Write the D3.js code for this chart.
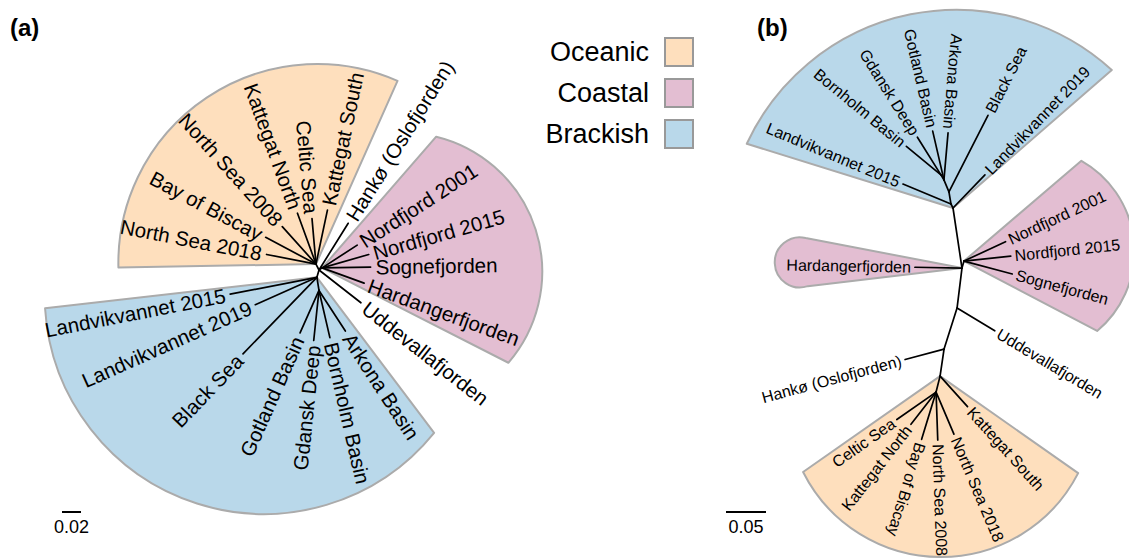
<!DOCTYPE html>
<html>
<head>
<meta charset="utf-8">
<script src="https://cdn.jsdelivr.net/npm/d3@7"></script>
<style>
  html, body { margin: 0; padding: 0; background: #fff; }
  svg { display: block; font-family: "Liberation Sans", Arial, Helvetica, sans-serif; }
</style>
</head>
<body>
<svg id="chart" width="1129" height="560"></svg>
<script>
// ---- habitat groups ----
const groupNames = ["Oceanic", "Coastal", "Brackish"];
const groupFills = ["#FEDFBD", "#E3BED2", "#B9D8EA"];

// ---- panel (a): unrooted tree ----
// internal nodes: [id, parent, branch length, direction in degrees (0 = east, clockwise)]
const nodesA = [
  ["root", null, 0, 0],
  ["oce", "root", 0.007, 243],
  ["coa", "root", 0.004, 326],
  ["bra", "root", 0.008, 106],
  ["bal", "bra", 0.014, 81]
];
// tips: [label, parent, branch length, direction]
const tipsA = [
  ["North Sea 2018", "oce", 0.053, 191],
  ["Bay of Biscay", "oce", 0.060, 208],
  ["North Sea 2008", "oce", 0.053, 228],
  ["Kattegat North", "oce", 0.057, 250],
  ["Celtic Sea", "oce", 0.048, 265],
  ["Kattegat South", "oce", 0.058, 282],
  ["Hankø (Oslofjorden)", "root", 0.058, 302],
  ["Nordfjord 2001", "coa", 0.044, 327],
  ["Nordfjord 2015", "coa", 0.051, 344],
  ["Sognefjorden", "coa", 0.051, 359],
  ["Hardangerfjorden", "coa", 0.047, 20],
  ["Uddevallafjorden", "root", 0.056, 38],
  ["Arkona Basin", "bal", 0.051, 57],
  ["Bornholm Basin", "bal", 0.051, 77],
  ["Gdansk Deep", "bal", 0.053, 96],
  ["Gotland Basin", "bal", 0.049, 114],
  ["Black Sea", "bra", 0.112, 134],
  ["Landvikvannet 2019", "bra", 0.071, 156],
  ["Landvikvannet 2015", "bra", 0.093, 169]
];
// highlighted clades: [group, apex node, start angle, start edge length, end angle, end edge length, arc bulge]
const cladesA = [
  ["Oceanic", "oce", 179, 0.208, 294, 0.211, 0.097],
  ["Coastal", "coa", 311, 0.183, 387, 0.220, 0.070],
  ["Brackish", "bra", 53, 0.205, 173.5, 0.288, 0.147]
];
const scaleBarA = 0.02;

// ---- panel (b): unrooted tree ----
const nodesB = [
  ["root", null, 0, 0],
  ["b1", "root", 0.0056, 243],
  ["b2", "b1", 0.0153, 260.5],
  ["b3", "b2", 0.0163, 247.4],
  ["b4", "b3", 0.0073, 239],
  ["c1", "root", 0.0759, 81.5],
  ["c2", "c1", 0.0091, 286],
  ["u", "c1", 0.0504, 97],
  ["h", "u", 0.0538, 107.6],
  ["o1", "h", 0.0341, 98.4],
  ["o2", "o1", 0.0206, 104]
];
const tipsB = [
  ["Landvikvannet 2019", "root", 0.0575, 314],
  ["Landvikvannet 2015", "b1", 0.065, 202.6],
  ["Black Sea", "b2", 0.1075, 297],
  ["Arkona Basin", "b3", 0.059, 275],
  ["Gotland Basin", "b3", 0.0625, 257],
  ["Gdansk Deep", "b4", 0.0555, 238],
  ["Bornholm Basin", "b4", 0.056, 219.5],
  ["Hardangerfjorden", "c1", 0.0588, 181],
  ["Nordfjord 2001", "c2", 0.0573, 335],
  ["Nordfjord 2015", "c2", 0.0588, 354],
  ["Sognefjorden", "c2", 0.0625, 15],
  ["Uddevallafjorden", "u", 0.055, 31],
  ["Hankø (Oslofjorden)", "h", 0.0504, 165],
  ["Kattegat South", "o1", 0.0513, 48],
  ["Celtic Sea", "o2", 0.0599, 145],
  ["Kattegat North", "o2", 0.051, 128],
  ["Bay of Biscay", "o2", 0.0618, 107],
  ["North Sea 2008", "o2", 0.06, 88],
  ["North Sea 2018", "o2", 0.0571, 67]
];
const cladesB = [
  ["Brackish", "root", 197.3, 0.270, 319, 0.263, 0.118],
  ["Coastal", "c2", 319.5, 0.193, 387.7, 0.188, 0.056],
  ["Coastal", "c1", 173.3, 0.194, 190.9, 0.199, 0.040],
  ["Oceanic", "o1", 35.1, 0.211, 145, 0.209, 0.1056]
];
const scaleBarB = 0.05;

// ---- drawing ----
const svg = d3.select("#chart");
const fillOf = d3.scaleOrdinal().domain(groupNames).range(groupFills);
const rad = d => d * Math.PI / 180;

function drawPanel(cfg) {
  const len = d3.scaleLinear().domain([0, cfg.barValue]).range([0, cfg.barPx]);
  const pos = new Map();
  cfg.nodes.forEach(([id, parent, bl, ang]) => {
    if (parent === null) { pos.set(id, cfg.origin); return; }
    const p = pos.get(parent);
    pos.set(id, [p[0] + len(bl) * Math.cos(rad(ang)), p[1] + len(bl) * Math.sin(rad(ang))]);
  });
  const tipPos = cfg.tips.map(([name, parent, bl, ang]) => {
    const p = pos.get(parent);
    return { name, ang, from: p,
      to: [p[0] + len(bl) * Math.cos(rad(ang)), p[1] + len(bl) * Math.sin(rad(ang))] };
  });
  const g = svg.append("g");

  // clade highlights
  g.append("g").selectAll("path").data(cfg.clades).join("path")
    .attr("d", ([grp, apex, a0, r0, a1, r1, bulge]) => {
      const P = pos.get(apex);
      const A = [P[0] + len(r0) * Math.cos(rad(a0)), P[1] + len(r0) * Math.sin(rad(a0))];
      const B = [P[0] + len(r1) * Math.cos(rad(a1)), P[1] + len(r1) * Math.sin(rad(a1))];
      const c = Math.hypot(B[0] - A[0], B[1] - A[1]);
      const s = len(bulge);
      const R = (c * c / 4 + s * s) / (2 * s);
      const large = s > c / 2 ? 1 : 0;
      return `M${P[0]},${P[1]}L${A[0]},${A[1]}A${R},${R} 0 ${large} 1 ${B[0]},${B[1]}Z`;
    })
    .attr("fill", d => fillOf(d[0]))
    .attr("stroke", "#ABABAB")
    .attr("stroke-width", 2)
    .attr("stroke-linejoin", "round");

  // branches
  const edges = [];
  cfg.nodes.forEach(([id, parent]) => { if (parent !== null) edges.push([pos.get(parent), pos.get(id)]); });
  tipPos.forEach(t => edges.push([t.from, t.to]));
  g.append("g").selectAll("line").data(edges).join("line")
    .attr("x1", d => d[0][0]).attr("y1", d => d[0][1])
    .attr("x2", d => d[1][0]).attr("y2", d => d[1][1])
    .attr("stroke", "#000").attr("stroke-width", 1.7).attr("stroke-linecap", "round");

  // tip labels
  const flipped = t => t.ang > cfg.flip[0] && t.ang < cfg.flip[1];
  g.append("g").selectAll("text").data(tipPos).join("text")
    .attr("transform", t => {
      const x = t.to[0] + cfg.gap * Math.cos(rad(t.ang));
      const y = t.to[1] + cfg.gap * Math.sin(rad(t.ang));
      return `translate(${x},${y}) rotate(${flipped(t) ? t.ang - 180 : t.ang})`;
    })
    .attr("text-anchor", t => flipped(t) ? "end" : "start")
    .attr("dominant-baseline", "central")
    .attr("font-size", cfg.fontSize)
    .attr("fill", "#000")
    .text(t => t.name);

  // scale bar
  const bar = g.append("g").attr("transform", `translate(${cfg.barPos[0]},${cfg.barPos[1]})`);
  bar.append("line").attr("x1", 0).attr("x2", len(cfg.barValue)).attr("y1", 0).attr("y2", 0)
    .attr("stroke", "#000").attr("stroke-width", 2);
  bar.append("text").attr("x", len(cfg.barValue) / 2).attr("y", 15)
    .attr("text-anchor", "middle").attr("dominant-baseline", "central")
    .attr("font-size", 18).text(cfg.barValue);

  // panel tag
  svg.append("text").attr("x", cfg.tagPos[0]).attr("y", cfg.tagPos[1])
    .attr("font-size", 24).attr("font-weight", "bold").text(cfg.tag);
}

drawPanel({
  nodes: nodesA, tips: tipsA, clades: cladesA, origin: [319, 270],
  barValue: scaleBarA, barPx: 19, barPos: [62, 512],
  fontSize: 20.5, gap: 5, flip: [90, 270], tag: "(a)", tagPos: [10, 36]
});
drawPanel({
  nodes: nodesB, tips: tipsB, clades: cladesB, origin: [953, 208],
  barValue: scaleBarB, barPx: 40, barPos: [726, 512],
  fontSize: 16, gap: 4, flip: [110, 290], tag: "(b)", tagPos: [757, 36]
});

// legend
const legendY = d3.scalePoint().domain(groupNames).range([52, 134]);
const legend = svg.append("g").selectAll("g").data(groupNames).join("g")
  .attr("transform", d => `translate(0,${legendY(d)})`);
legend.append("text").attr("x", 649).attr("y", 0)
  .attr("text-anchor", "end").attr("dominant-baseline", "central")
  .attr("font-size", 27).text(d => d);
legend.append("rect").attr("x", 665).attr("y", -14).attr("width", 28).attr("height", 28)
  .attr("fill", d => fillOf(d)).attr("stroke", "#999").attr("stroke-width", 2);
</script>
</body>
</html>
